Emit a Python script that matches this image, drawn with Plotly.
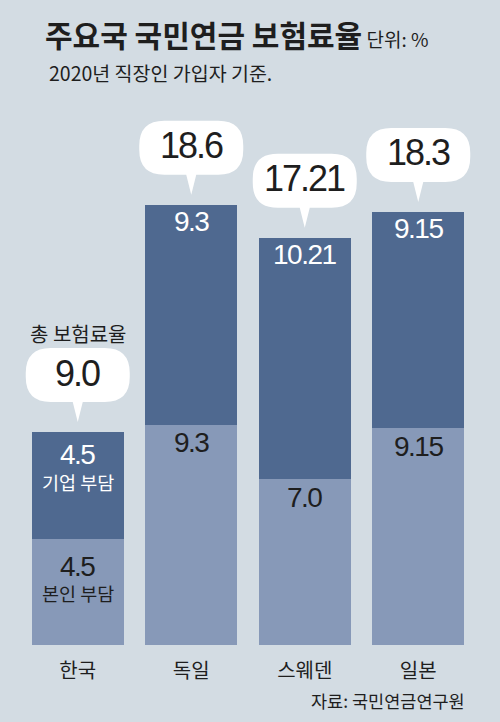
import plotly.graph_objects as go

# ---- data ----
countries = ["한국", "독일", "스웨덴", "일본"]
employee = [4.5, 9.3, 7.0, 9.15]       # 본인 부담 (lower segment)
employer = [4.5, 9.3, 10.21, 9.15]     # 기업 부담 (upper segment)
totals = [9.0, 18.6, 17.21, 18.3]
total_labels = ["9.0", "18.6", "17.21", "18.3"]
employee_labels = ["4.5", "9.3", "7.0", "9.15"]
employer_labels = ["4.5", "9.3", "10.21", "9.15"]

# ---- style ----
BG = "#d3dce3"
DARK = "#4f6990"
LIGHT = "#8799b8"
TXT = "#1e1e1e"
KR = "Noto Sans CJK KR, Noto Sans, sans-serif"
NUM = "Liberation Sans Narrow, Arial Narrow, Liberation Sans, Arial, sans-serif"

W, H = 500, 722
ML, MR, MT, MB = 21, 25, 100, 77
YMAX = 23.03

xs = list(range(len(countries)))


def tight(s, ls):
    return f"<span style='letter-spacing:{ls}px'>{s}</span>"


fig = go.Figure()
fig.add_trace(go.Bar(x=xs, y=employee, marker=dict(color=LIGHT, line=dict(width=0)),
                     width=0.81, hoverinfo="skip"))
fig.add_trace(go.Bar(x=xs, y=employer, marker=dict(color=DARK, line=dict(width=0)),
                     width=0.81, hoverinfo="skip"))


def bubble_path(x0=-52, x1=52, y0=30, y1=84, r=25, tw=5, tip=10):
    return (f"M {x0 + r},{y1} L {x1 - r},{y1} Q {x1},{y1} {x1},{y1 - r} "
            f"L {x1},{y0 + r} Q {x1},{y0} {x1 - r},{y0} "
            f"L {tw},{y0} L 0,{tip} L {-tw},{y0} "
            f"L {x0 + r},{y0} Q {x0},{y0} {x0},{y0 + r} "
            f"L {x0},{y1 - r} Q {x0},{y1} {x0 + r},{y1} Z")


shapes = []
annotations = []
for i, t in enumerate(totals):
    shapes.append(dict(type="path", xref="x", yref="y", xsizemode="pixel", ysizemode="pixel",
                       xanchor=i, yanchor=t, path=bubble_path(), fillcolor="white",
                       line=dict(width=0), layer="above"))
    annotations.append(dict(x=i, y=t, xref="x", yref="y", yshift=59,
                            text=tight(total_labels[i], -2),
                            showarrow=False, yanchor="middle",
                            font=dict(family=NUM, size=36, color=TXT)))
    # upper segment value
    annotations.append(dict(x=i, y=t, xref="x", yref="y", yshift=-22 if i == 0 else -17,
                            text=tight(employer_labels[i], -1.5),
                            showarrow=False, yanchor="middle",
                            font=dict(family=NUM, size=28, color="white")))
    # lower segment value
    annotations.append(dict(x=i, y=employee[i], xref="x", yref="y",
                            yshift=-28 if i == 0 else -18, text=tight(employee_labels[i], -1.5),
                            showarrow=False, yanchor="middle",
                            font=dict(family=NUM, size=28, color=TXT)))

annotations += [
    dict(x=0, y=totals[0], xref="x", yref="y", yshift=99, text="총 보험료율", showarrow=False,
         yanchor="middle", font=dict(family=KR, size=20, color=TXT)),
    dict(x=0, y=totals[0], xref="x", yref="y", yshift=-50, text="기업 부담", showarrow=False,
         yanchor="middle", font=dict(family=KR, size=18.5, color="white")),
    dict(x=0, y=employee[0], xref="x", yref="y", yshift=-54, text="본인 부담", showarrow=False,
         yanchor="middle", font=dict(family=KR, size=18.5, color=TXT)),
    dict(x=(43 - ML) / (W - ML - MR), y=1 + (MT - 34) / (H - MT - MB), xref="paper", yref="paper",
         xanchor="left", yanchor="middle", showarrow=False,
         text="<b>주요국 국민연금 보험료율</b><span style='font-size:19px'> 단위: %</span>",
         font=dict(family=KR, size=30, color=TXT)),
    dict(x=(47 - ML) / (W - ML - MR), y=1 + (MT - 72) / (H - MT - MB), xref="paper", yref="paper",
         xanchor="left", yanchor="middle", showarrow=False,
         text="2020년 직장인 가입자 기준.", font=dict(family=KR, size=19.5, color=TXT)),
    dict(x=(467 - ML) / (W - ML - MR), y=-(700 - (H - MB)) / (H - MT - MB), xref="paper",
         yref="paper", xanchor="right", yanchor="middle", showarrow=False,
         text="자료: 국민연금연구원", font=dict(family=KR, size=17.5, color=TXT)),
]

fig.update_layout(
    width=W, height=H, barmode="stack", showlegend=False,
    paper_bgcolor=BG, plot_bgcolor=BG,
    margin=dict(l=ML, r=MR, t=MT, b=MB, pad=0),
    xaxis=dict(range=[-0.5, len(countries) - 0.5], tickvals=xs, ticktext=countries,
               showgrid=False, zeroline=False, showline=False, ticks="",
               ticklabelstandoff=12,
               tickfont=dict(family=KR, size=20, color=TXT), fixedrange=True),
    yaxis=dict(range=[0, YMAX], visible=False, fixedrange=True),
    shapes=shapes, annotations=annotations,
)

fig.write_html("out.html", config={"displayModeBar": False},
               post_script="document.body.style.margin='0';document.body.style.overflow='hidden';")
